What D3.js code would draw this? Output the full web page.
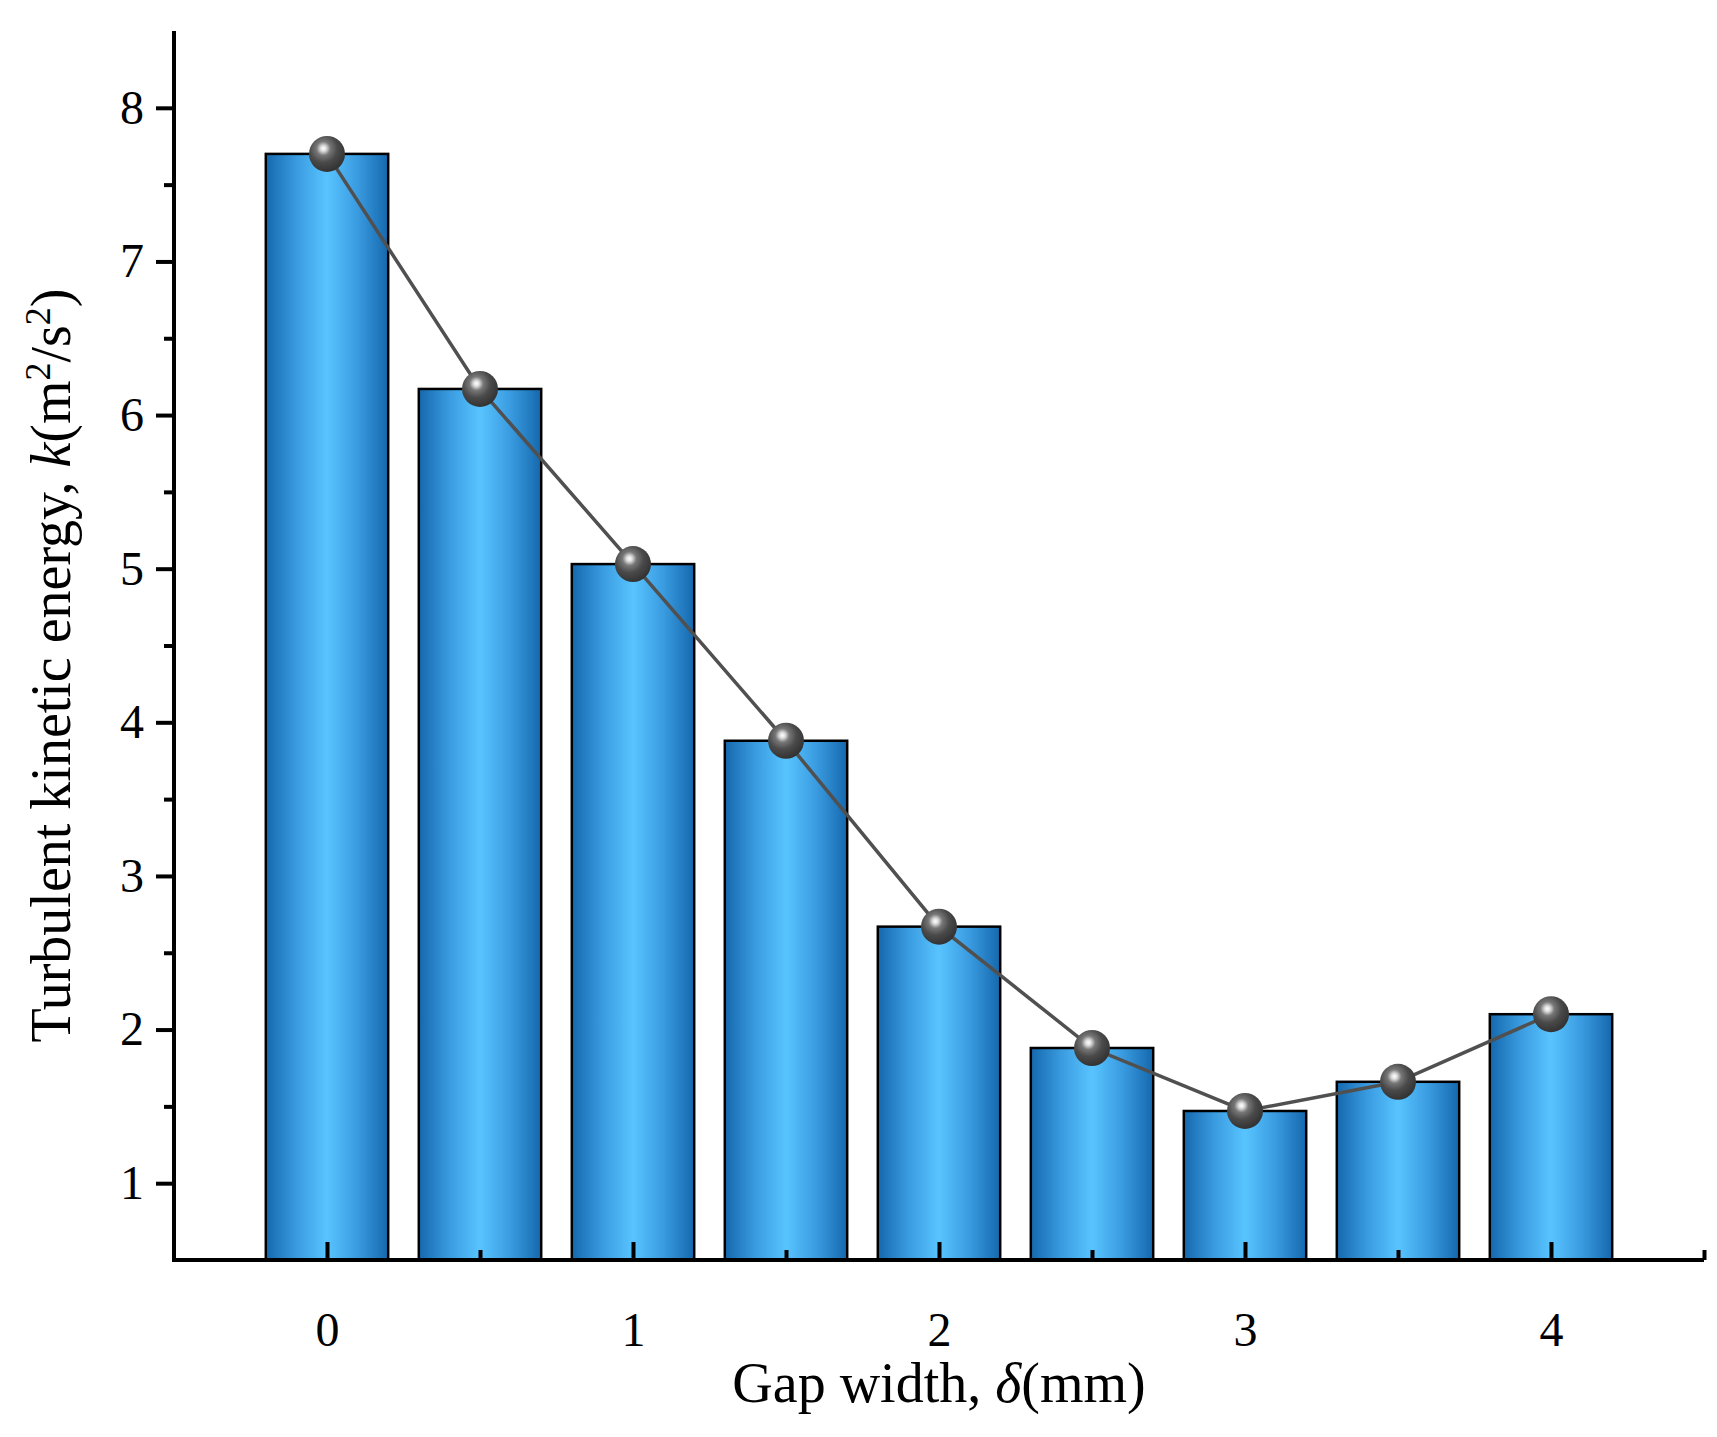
<!DOCTYPE html>
<html><head><meta charset="utf-8">
<script src="https://cdn.jsdelivr.net/npm/d3@7"></script>
<style>body{margin:0;background:#fff}text{font-family:"Liberation Serif","Times New Roman",serif}</style>
</head><body>
<script>
const gaps = [0, 0.5, 1, 1.5, 2, 2.5, 3, 3.5, 4];
const energy = [7.7, 6.17, 5.03, 3.88, 2.67, 1.88, 1.47, 1.66, 2.1];
const xTicks = [0, 1, 2, 3, 4];
const yTicks = [1, 2, 3, 4, 5, 6, 7, 8];

const W = 1717, H = 1437;
const m = {left: 174, top: 31, right: 13, bottom: 177};
const svg = d3.select("body").append("svg").attr("width", W).attr("height", H);
const x = d3.scaleLinear().domain([-0.5, 4.5]).range([m.left, W - m.right]);
const y = d3.scaleLinear().domain([0.5, 8.5]).range([H - m.bottom, m.top]);

const defs = svg.append("defs");
const gr = defs.append("linearGradient").attr("id", "bar").attr("x1", 0).attr("x2", 1).attr("y1", 0).attr("y2", 0);
[[0, "#1568ad"], [0.25, "#3a9be0"], [0.5, "#58c4ff"], [0.75, "#3a9be0"], [1, "#1568ad"]]
  .forEach(([o, c]) => gr.append("stop").attr("offset", o).attr("stop-color", c));
const rg = defs.append("radialGradient").attr("id", "ball").attr("cx", 0.4).attr("cy", 0.35).attr("r", 0.65);
[[0, "#ffffff"], [0.12, "#dddddd"], [0.3, "#777777"], [0.6, "#4a4a4a"], [1, "#333333"]]
  .forEach(([o, c]) => rg.append("stop").attr("offset", o).attr("stop-color", c));

const bw = x(0.4) - x(0);
svg.selectAll("rect.bar").data(gaps).enter().append("rect")
  .attr("x", (d) => x(d) - bw / 2)
  .attr("y", (d, i) => y(energy[i]))
  .attr("width", bw)
  .attr("height", (d, i) => y(0.5) - y(energy[i]))
  .attr("fill", "url(#bar)")
  .attr("stroke", "#000").attr("stroke-width", 2.5);

const line = d3.line().x((d, i) => x(gaps[i])).y((d) => y(d));
svg.append("path").datum(energy).attr("d", line)
  .attr("fill", "none").attr("stroke", "#505050").attr("stroke-width", 3.5);
svg.selectAll("circle").data(energy).enter().append("circle")
  .attr("cx", (d, i) => x(gaps[i])).attr("cy", (d) => y(d)).attr("r", 18)
  .attr("fill", "url(#ball)");

// x axis: ticks inward
const xa = svg.append("g").attr("transform", `translate(0,${y(0.5)})`)
  .call(d3.axisBottom(x).tickValues(xTicks).tickSize(-18).tickPadding(52).tickFormat(d3.format("d")));
svg.append("g").attr("transform", `translate(0,${y(0.5)})`)
  .call(d3.axisBottom(x).tickValues([0.5, 1.5, 2.5, 3.5, 4.5]).tickSize(-10).tickFormat(""))
  .select(".domain").remove();
// y axis: ticks outward
const ya = svg.append("g").attr("transform", `translate(${x(-0.5)},0)`)
  .call(d3.axisLeft(y).tickValues(yTicks).tickSize(18).tickPadding(12));
svg.append("g").attr("transform", `translate(${x(-0.5)},0)`)
  .call(d3.axisLeft(y).tickValues([1.5, 2.5, 3.5, 4.5, 5.5, 6.5, 7.5]).tickSize(10).tickFormat(""))
  .select(".domain").remove();

svg.selectAll(".domain").attr("stroke", "#000").attr("stroke-width", 4);
svg.selectAll(".tick line").attr("stroke", "#000").attr("stroke-width", 4);
svg.selectAll(".tick text").attr("font-size", 48).attr("fill", "#000")
  .style("font-family", "'Liberation Serif', serif");
svg.selectAll("path.domain").each(function () {
  // extend domain past ends like the reference (no end ticks)
  const d = d3.select(this).attr("d");
  d3.select(this).attr("d", d.replace(/V\d+(\.\d+)?|H\d+(\.\d+)?/g, (s) => s));
});
xa.select(".domain").attr("d", `M${m.left - 2},0H${W - m.right}`);
ya.select(".domain").attr("d", `M0,${m.top}V${y(0.5) + 2}`);

svg.append("text").attr("x", (m.left + W - m.right) / 2).attr("y", 1402)
  .attr("text-anchor", "middle").attr("font-size", 56)
  .html('Gap width, <tspan font-style="italic">δ</tspan>(mm)');
svg.append("text").attr("transform", `translate(70,${(m.top + y(0.5)) / 2 + 20}) rotate(-90)`)
  .attr("text-anchor", "middle").attr("font-size", 56)
  .html('Turbulent kinetic energy, <tspan font-style="italic">k</tspan>(m<tspan baseline-shift="super" font-size="36">2</tspan>/s<tspan baseline-shift="super" font-size="36">2</tspan>)');
</script>
</body></html>
